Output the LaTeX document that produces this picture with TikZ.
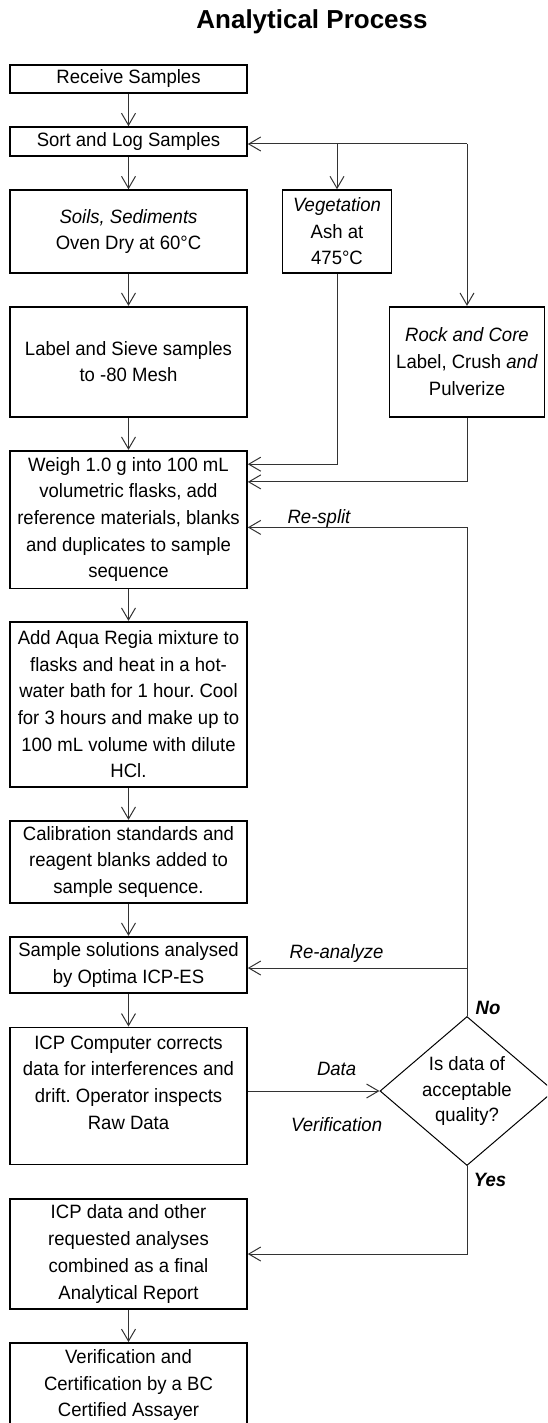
\documentclass[tikz,border=0pt]{standalone}
\usepackage{fontspec}
\setmainfont{Liberation Sans}[FakeStretch=0.96]
\newfontfamily\titlefont{Liberation Sans}
\usetikzlibrary{arrows.meta,shapes.geometric,calc}
\frenchspacing

\begin{document}
\begin{tikzpicture}[
    x=1pt, y=-1pt,
    font=\fontsize{19.3}{26.7}\selectfont,
    box/.style={draw, line width=1.6pt, align=center, inner sep=2pt, minimum width=237},
    decision/.style={draw, diamond, line width=1pt, align=center, inner sep=0pt,
        aspect=1.17, minimum width=174, minimum height=149,
        font=\fontsize{19.3}{25.6}\selectfont},
    arr/.style={-{Straight Barb[length=12pt,width=14pt]}, line width=1pt, draw=black!80},
    lbl/.style={inner sep=1pt, font=\fontsize{19.3}{22}\selectfont\itshape},
    title/.style={font=\titlefont\fontsize{26}{30}\selectfont\bfseries}
]
\useasboundingbox (0,0) rectangle (547,1423);
\clip (0,0) rectangle (547,1423);

\node[title] (title) at (312,22) {Analytical Process};

% main column
\node[box, minimum height=27.7] (recv) at (128.5,78.9) {Receive Samples};
\node[box, minimum height=29] (sort) at (128.5,141.5) {Sort and Log Samples};
\node[box, minimum height=82.7] (soils) at (128.5,231.4) {\textit{Soils, Sediments}\\Oven Dry at 60°C};
\node[box, minimum height=110] (sieve) at (128.5,361.7) {Label and Sieve samples\\to -80 Mesh};
\node[box, minimum height=137.6] (weigh) at (128.5,519.5) {Weigh 1.0 g into 100 mL\\volumetric flasks, add\\reference materials, blanks\\and duplicates to sample\\sequence};
\node[box, minimum height=165] (aqua) at (128.5,704.2) {Add Aqua Regia mixture to\\flasks and heat in a hot-\\water bath for 1 hour. Cool\\for 3 hours and make up to\\100 mL volume with dilute\\HCl.};
\node[box, minimum height=82] (calib) at (128.5,861.7) {Calibration standards and\\reagent blanks added to\\sample sequence.};
\node[box, minimum height=56] (solut) at (128.5,964.7) {Sample solutions analysed\\by Optima ICP-ES};
\node[box, minimum height=137] (icpcor) at (128.5,1095.8) {ICP Computer corrects\\data for interferences and\\drift. Operator inspects\\Raw Data\\\mbox{}};
\node[box, minimum height=110] (icpdat) at (128.5,1254) {ICP data and other\\requested analyses\\combined as a final\\Analytical Report};
\node[box, minimum height=84.3] (verif) at (128.5,1385) {Verification and\\Certification by a BC\\Certified Assayer};

% side branches
\node[box, minimum width=109, minimum height=82.7] (veg) at (337,231.4) {\textit{Vegetation}\\Ash at\\475°C};
\node[box, minimum width=155, minimum height=110] (rock) at (467,361.7) {\textit{Rock and Core}\\Label, Crush \textit{and}\\Pulverize};
\node[decision] (qual) at (467,1091) {Is data of\\acceptable\\quality?};

\coordinate (split) at (467,144);
\coordinate (reana) at (467,968);

\draw[arr] (recv) -- (sort);
\draw[arr] (split) -- (sort.east |- split);
\draw[arr] (veg.north |- split) -- (veg);
\draw[arr] (split) -- (rock);
\draw[arr] (sort) -- (soils);
\draw[arr] (soils) -- (sieve);
\draw[arr] (sieve) -- (weigh);
\draw[arr] (veg) |- ($(weigh.north east)+(0,14.3)$);
\draw[arr] (rock) |- ($(weigh.north east)+(0,32)$);
\draw[arr] (weigh) -- (aqua);
\draw[arr] (aqua) -- (calib);
\draw[arr] (calib) -- (solut);
\draw[arr] (solut) -- (icpcor);

% quality loop
\draw[arr] (qual) |- ($(weigh.north east)+(0,77.5)$);
\draw[arr] (reana) -- (solut.east |- reana);
\draw[arr] (icpcor.east |- qual) -- (qual);
\draw[arr] (qual) |- (icpdat);
\draw[arr] (icpdat) -- (verif);

\node[lbl] (resplit) at (319,519) {Re-split};
\node[lbl] (reanalyze) at (336.6,953) {Re-analyze};
\node[lbl] (datalbl) at (336.6,1069) {Data};
\node[lbl] (veriflbl) at (336.6,1125) {Verification};
\node[lbl, font=\fontsize{19.3}{22}\selectfont\bfseries\itshape] (no) at (488,1008) {No};
\node[lbl, font=\fontsize{19.3}{22}\selectfont\bfseries\itshape] (yes) at (490,1180) {Yes};
\end{tikzpicture}
\end{document}
